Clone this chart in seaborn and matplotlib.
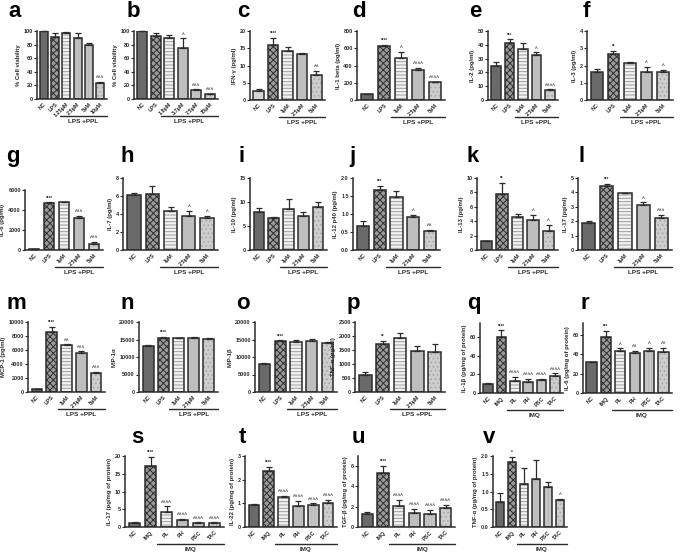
import numpy as np
import matplotlib
matplotlib.use("Agg")
import matplotlib.pyplot as plt
import seaborn as sns

sns.set_style("ticks")
plt.rcParams["font.family"] = ["Liberation Sans", "DejaVu Sans"]
plt.rcParams["font.weight"] = "bold"
plt.rcParams["axes.labelweight"] = "bold"
plt.rcParams["hatch.linewidth"] = 0.7

W, H = 685, 553
EDGE = "#2b2b2b"

# categories
cats_a = ["NC", "LPS", "1.25µM", "2.5µM", "5µM", "10µM"]
cats_b = ["NC", "LPS", "1.8µM", "3.7µM", "7.5µM", "15µM"]
cats_lps = ["NC", "LPS", "1µM", "2.5µM", "5µM"]
cats_imq = ["NC", "IMQ", "PL", "PH", "PSC", "TAC"]

# a / b: cell viability
via_a_mean = [100, 91, 97, 89, 80, 23]
via_a_sem = [0, 6, 2, 8, 3, 2]
via_a_sig = ["", "", "", "", "", "^^^"]
via_b_mean = [100, 93, 90, 75, 13, 7]
via_b_sem = [0, 4, 4, 14, 1, 1]
via_b_sig = ["", "", "", "^", "^^^", "^^^"]

# c - p: cytokines in vitro
ifng_mean = [2.5, 15.8, 14.3, 13.3, 7.2]
ifng_sem = [0.6, 2.2, 1.2, 0.3, 1.3]
ifng_sig = ["", "****", "", "", "^^"]
il1b_mean = [65, 625, 490, 350, 205]
il1b_sem = [5, 12, 65, 25, 5]
il1b_sig = ["", "****", "^", "^^^^", "^^^^"]
il2_mean = [25, 41, 37, 32.5, 7]
il2_sem = [2.5, 3, 4, 2, 0.8]
il2_sig = ["", "***", "", "^", "^^^^"]
il3_mean = [1.65, 2.65, 2.15, 1.62, 1.6]
il3_sem = [0.15, 0.2, 0.05, 0.3, 0.15]
il3_sig = ["", "**", "", "^", "^"]
il6_mean = [100, 4700, 4800, 3250, 600]
il6_sem = [20, 80, 40, 150, 250]
il6_sig = ["", "****", "", "^^^", "^^^"]
il7_mean = [6.1, 6.2, 4.3, 3.75, 3.6]
il7_sem = [0.2, 0.95, 0.45, 0.6, 0.2]
il7_sig = ["", "", "", "^", "^"]
il10_mean = [8.0, 6.6, 8.6, 7.0, 9.0]
il10_sem = [0.7, 0.2, 2.0, 0.9, 0.9]
il10_sig = ["", "", "", "", ""]
il12_mean = [0.66, 1.66, 1.46, 0.92, 0.53]
il12_sem = [0.15, 0.13, 0.18, 0.05, 0.02]
il12_sig = ["", "***", "", "^", "^^"]
il13_mean = [1.2, 7.8, 4.6, 4.1, 2.6]
il13_sem = [0, 1.5, 0.4, 0.8, 0.9]
il13_sig = ["", "**", "", "^", "^"]
il17_mean = [1.9, 4.45, 3.95, 3.15, 2.25]
il17_sem = [0.08, 0.12, 0.04, 0.15, 0.2]
il17_sig = ["", "***", "", "^", "^^^"]
mcp1_mean = [400, 8600, 6650, 5600, 2750]
mcp1_sem = [0, 700, 150, 200, 100]
mcp1_sig = ["", "****", "^^", "^^^", "^^^"]
mip1a_mean = [13200, 15400, 15300, 15400, 15200]
mip1a_sem = [300, 300, 200, 200, 200]
mip1a_sig = ["", "****", "", "", ""]
mip1b_mean = [8000, 14500, 14400, 14700, 14000]
mip1b_sem = [200, 300, 500, 400, 400]
mip1b_sig = ["", "****", "", "", ""]
tnfa_mean = [620, 1720, 1940, 1470, 1420]
tnfa_sem = [90, 100, 170, 180, 280]
tnfa_sig = ["", "**", "", "", ""]

# q - v: IMQ model
s_il1b_mean = [10, 60, 13, 12, 14, 18]
s_il1b_sem = [1, 7, 4, 3, 1, 3]
s_il1b_sig = ["", "****", "^^^^", "^^^^", "^^^^", "^^^^"]
s_il6_mean = [31.5, 58, 43, 41, 43, 42]
s_il6_sem = [0.5, 6, 3, 2.5, 3.5, 4.5]
s_il6_sig = ["", "***", "^", "^^", "^", "^^"]
s_il17_mean = [1.2, 17.3, 4.3, 1.9, 1.0, 1.1]
s_il17_sem = [0.3, 2.5, 1.5, 0.4, 0.3, 0.2]
s_il17_sig = ["", "****", "^^^^", "^^^^", "^^^^", "^^^^"]
s_il22_mean = [0.93, 2.38, 1.25, 0.87, 0.93, 1.02]
s_il22_sem = [0.04, 0.15, 0.07, 0.22, 0.07, 0.14]
s_il22_sig = ["", "****", "^^^^", "^^^^", "^^^^", "^^^^"]
s_tgfb_mean = [1.3, 5.3, 2.1, 1.4, 1.3, 1.9]
s_tgfb_sem = [0.2, 0.7, 0.55, 0.4, 0.35, 0.25]
s_tgfb_sig = ["", "****", "^^^^", "^^^^", "^^^^", "^^^^"]
s_tnfa_mean = [0.7, 1.82, 1.22, 1.35, 1.13, 0.77]
s_tnfa_sem = [0.27, 0.15, 0.45, 0.55, 0.15, 0.02]
s_tnfa_sig = ["", "*", "", "", "", "^"]

# bar fill styles
DARK = dict(face="#6a6a6a", hatch=None, hc=None)
LIGHTNC = dict(face="#d6d6d6", hatch=None, hc=None)
CHECK = dict(face="#9a9a9a", hatch="xxxxx", hc="#2e2e2e")
STRIPE = dict(face="#f2f2f2", hatch="-----", hc="#9c9c9c")
LIGHT = dict(face="#bebebe", hatch=None, hc=None)
LIGHT2 = dict(face="#c6c6c6", hatch="|||||", hc="#b8b8b8")
DOT = dict(face="#cdcdcd", hatch="....", hc="#a8a8a8")

sty5 = [DARK, CHECK, STRIPE, LIGHT, DOT]
sty6 = [DARK, CHECK, STRIPE, LIGHT, LIGHT2, DOT]

panels = [
    # letter, cats, mean, sem, sig, ylabel, ylim, ystep, group, box (L,T,R,B), letter pos, styles
    ("a", cats_a, via_a_mean, via_a_sem, via_a_sig, "% Cell viability", 100, 20, "LPS +PPL", (37, 31, 107, 99), (8, 17), sty6),
    ("b", cats_b, via_b_mean, via_b_sem, via_b_sig, "% Cell viability", 100, 20, "LPS +PPL", (134, 31, 218, 99), (127, 17), sty6),
    ("c", cats_lps, ifng_mean, ifng_sem, ifng_sig, "IFN-γ (pg/ml)", 20, 5, "LPS +PPL", (250, 31, 325, 100), (237, 17), [LIGHTNC] + sty5[1:]),
    ("d", cats_lps, il1b_mean, il1b_sem, il1b_sig, "IL-1 beta (pg/ml)", 800, 200, "LPS +PPL", (357, 31, 445, 100), (352, 17), sty5),
    ("e", cats_lps, il2_mean, il2_sem, il2_sig, "IL-2 (pg/ml)", 50, 10, "LPS +PPL", (488, 31, 558, 100), (469, 17), sty5),
    ("f", cats_lps, il3_mean, il3_sem, il3_sig, "IL-3 (pg/ml)", 4, 1, "LPS +PPL", (587, 31, 673, 100), (583, 17), sty5),
    ("g", cats_lps, il6_mean, il6_sem, il6_sig, "IL-6 (pg/ml)", 6000, 2000, "LPS +PPL", (25, 190, 103, 250), (6, 162), sty5),
    ("h", cats_lps, il7_mean, il7_sem, il7_sig, "IL-7 (pg/ml)", 8, 2, "LPS +PPL", (123, 178, 218, 250), (120, 162), sty5),
    ("i", cats_lps, il10_mean, il10_sem, il10_sig, "IL-10 (pg/ml)", 15, 5, "LPS +PPL", (250, 178, 327, 250), (238, 162), sty5),
    ("j", cats_lps, il12_mean, il12_sem, il12_sig, "IL-12 p40 (pg/ml)", 2.0, 0.5, "LPS +PPL", (353, 178, 440, 250), (349, 162), sty5),
    ("k", cats_lps, il13_mean, il13_sem, il13_sig, "IL-13 (pg/ml)", 10, 2, "LPS +PPL", (477, 178, 558, 250), (467, 162), sty5),
    ("l", cats_lps, il17_mean, il17_sem, il17_sig, "IL-17 (pg/ml)", 5, 1, "LPS +PPL", (578, 178, 672, 250), (578, 162), sty5),
    ("m", cats_lps, mcp1_mean, mcp1_sem, mcp1_sig, "MCP-1 (pg/ml)", 10000, 2000, "LPS +PPL", (28, 322, 105, 392), (6, 309), sty5),
    ("n", cats_lps, mip1a_mean, mip1a_sem, mip1a_sig, "MIP-1α", 20000, 5000, "LPS +PPL", (139, 322, 218, 392), (121, 309), sty5),
    ("o", cats_lps, mip1b_mean, mip1b_sem, mip1b_sig, "MIP-1β", 20000, 5000, "LPS +PPL", (255, 322, 337, 392), (236, 309), sty5),
    ("p", cats_lps, tnfa_mean, tnfa_sem, tnfa_sig, "TNF-α (pg/ml)", 2500, 500, "LPS +PPL", (355, 322, 445, 392), (347, 309), sty5),
    ("q", cats_imq, s_il1b_mean, s_il1b_sem, s_il1b_sig, "IL-1β (pg/mg of protein)", (75, 60), 20, "IMQ", (480, 323, 563, 393), (467, 309), sty6),
    ("r", cats_imq, s_il6_mean, s_il6_sem, s_il6_sig, "IL-6 (pg/mg of protein)", (72, 60), 20, "IMQ", (583, 323, 672, 393), (580, 309), sty6),
    ("s", cats_imq, s_il17_mean, s_il17_sem, s_il17_sig, "IL-17 (pg/mg of protein)", 20, 5, "IMQ", (125, 456, 224, 527), (131, 443), sty6),
    ("t", cats_imq, s_il22_mean, s_il22_sem, s_il22_sig, "IL-22 (pg/mg of protein)", 3, 1, "IMQ", (245, 456, 337, 527), (239, 443), sty6),
    ("u", cats_imq, s_tgfb_mean, s_tgfb_sem, s_tgfb_sig, "TGF-β (pg/mg of protein)", (7, 6), 2, "IMQ", (358, 456, 455, 527), (352, 443), sty6),
    ("v", cats_imq, s_tnfa_mean, s_tnfa_sem, s_tnfa_sig, "TNF-α (pg/mg of protein)", 2.0, 0.5, "IMQ", (493, 456, 567, 527), (483, 443), sty6),
]

fig = plt.figure(figsize=(W / 100, H / 100), dpi=100)

for letter, cats, mean, sem, sig, ylabel, ytop, ystep, group, box, lpos, styles in panels:
    L, T, R, B = box
    ax = fig.add_axes([L / W, 1 - B / H, (R - L) / W, (B - T) / H])
    n = len(cats)
    x = np.arange(n)
    mean = np.asarray(mean, dtype=float)
    sem = np.asarray(sem, dtype=float)

    sns.barplot(x=cats, y=mean, hue=cats, palette=[s["face"] for s in styles],
                legend=False, width=0.72, saturation=1, linewidth=0, ax=ax)
    for bar, s in zip(ax.patches, styles):
        if s["hatch"]:
            bar.set_hatch(s["hatch"])
            bar.set_edgecolor(s["hc"])
    # outlines
    ax.bar(x, mean, width=0.72, fill=False, edgecolor=EDGE, linewidth=1.1, zorder=3)
    ax.errorbar(x, mean, yerr=[np.zeros(n), sem], fmt="none", ecolor=EDGE,
                elinewidth=0.9, capsize=2.0, capthick=0.9, zorder=4, clip_on=False)

    if isinstance(ytop, tuple):
        ymax, tmax = ytop
    else:
        ymax, tmax = ytop, ytop
    ax.set_ylim(0, ymax)
    ticks = np.arange(0, tmax + ystep / 2, ystep)
    ax.set_yticks(ticks)
    if ystep < 1:
        ax.set_yticklabels([f"{t:.1f}" for t in ticks])
    else:
        ax.set_yticklabels([f"{t:g}" for t in ticks])
    ax.set_xlim(-0.6, n - 0.4)

    for i in range(n):
        if sig[i]:
            ax.text(i, mean[i] + sem[i] + ymax * 0.025, sig[i], ha="center", va="bottom",
                    fontsize=3.3, color=EDGE)

    sns.despine(ax=ax)
    for sp in ("left", "bottom"):
        ax.spines[sp].set_linewidth(1.1)
        ax.spines[sp].set_color(EDGE)
    ax.tick_params(axis="both", labelsize=4, length=2, width=0.8, pad=1, colors=EDGE)
    ax.tick_params(axis="x", length=0, pad=2)
    plt.setp(ax.get_xticklabels(), rotation=45, ha="right", rotation_mode="anchor")
    ax.set_xlabel("")
    ax.set_ylabel(ylabel, fontsize=4.3, labelpad=2, color=EDGE)

    # group bracket under treated bars
    hpx = B - T
    trans = ax.get_xaxis_transform()
    ax.plot([1.4, n - 0.4], [-17 / hpx, -17 / hpx], transform=trans, clip_on=False,
            color=EDGE, lw=1.0)
    ax.text((1.4 + n - 0.4) / 2, -20 / hpx, group, transform=trans, ha="center", va="top",
            fontsize=4.6, color=EDGE)

    fig.text(lpos[0] / W, 1 - lpos[1] / H, letter, fontsize=16, fontweight="bold",
             va="baseline", ha="left", color="black")

fig.savefig("out.png", dpi=100, facecolor="white")
